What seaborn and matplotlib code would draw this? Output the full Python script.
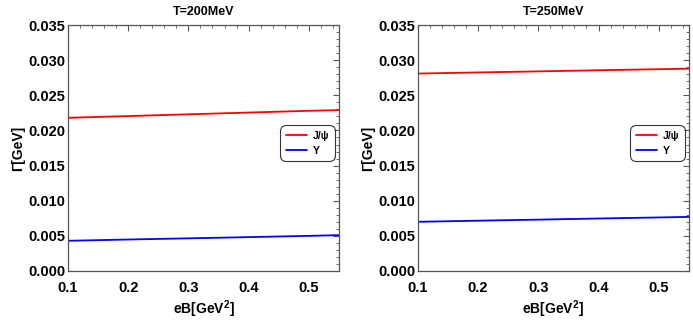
import numpy as np
import pandas as pd
import matplotlib
matplotlib.use("Agg")
import matplotlib.pyplot as plt
import seaborn as sns
from matplotlib.ticker import MultipleLocator, FormatStrFormatter

sns.set_theme(style="white")
plt.rcParams['font.family'] = ['Liberation Sans', 'DejaVu Sans']
plt.rcParams['font.weight'] = 'bold'
plt.rcParams['text.color'] = 'black'
plt.rcParams['axes.labelcolor'] = 'black'
plt.rcParams['xtick.labelcolor'] = 'black'
plt.rcParams['ytick.labelcolor'] = 'black'
plt.rcParams['mathtext.fontset'] = 'custom'
plt.rcParams['mathtext.rm'] = 'Liberation Sans:bold'
plt.rcParams['mathtext.bf'] = 'Liberation Sans:bold'

eB = [0.1, 0.2, 0.3, 0.4, 0.5, 0.55]
jpsi_200 = [0.0218, 0.02205, 0.0223, 0.02255, 0.0228, 0.0229]
ups_200 = [0.0043, 0.00448, 0.00465, 0.00482, 0.005, 0.0051]
jpsi_250 = [0.0281, 0.02826, 0.02841, 0.02857, 0.02872, 0.0288]
ups_250 = [0.0070, 0.00716, 0.00731, 0.00747, 0.00762, 0.0077]
titles = ["T=200MeV", "T=250MeV"]
labels = ["J/\u03c8", "\u03a5"]

fig = plt.figure(figsize=(6.93, 3.24), dpi=100)
axes = [fig.add_axes([0.0981, 0.1636, 0.391, 0.759]),
        fig.add_axes([0.603, 0.1636, 0.391, 0.759])]

for ax, title, jp, up in zip(axes, titles, [jpsi_200, jpsi_250], [ups_200, ups_250]):
    df = pd.DataFrame({"eB": eB * 2, "G": jp + up,
                       "state": [labels[0]] * len(eB) + [labels[1]] * len(eB)})
    sns.lineplot(data=df, x="eB", y="G", hue="state", palette=["#ff0000", "#0000ff"],
                 ax=ax, linewidth=1.3)
    ax.set_xlim(0.1, 0.55)
    ax.set_ylim(0, 0.035)
    ax.xaxis.set_major_locator(MultipleLocator(0.1))
    ax.xaxis.set_minor_locator(MultipleLocator(0.02))
    ax.yaxis.set_major_locator(MultipleLocator(0.005))
    ax.yaxis.set_minor_locator(MultipleLocator(0.001))
    ax.xaxis.set_major_formatter(FormatStrFormatter('%.1f'))
    ax.yaxis.set_major_formatter(FormatStrFormatter('%.3f'))
    ax.tick_params(which='both', direction='in', top=True, right=True, color='#555555')
    ax.tick_params(which='major', length=4, width=0.8, labelsize=10.5)
    ax.tick_params(axis='x', which='major', pad=7)
    ax.tick_params(axis='y', which='major', pad=2)
    ax.tick_params(which='minor', length=2, width=0.6)
    for lab in ax.get_xticklabels() + ax.get_yticklabels():
        lab.set_fontweight('bold')
    for s in ax.spines.values():
        s.set_color('#555555')
        s.set_linewidth(0.9)
    ax.set_title(title, fontsize=9, fontweight='bold', pad=7)
    ax.set_xlabel("eB[GeV$^{2}$]", fontsize=10, fontweight='bold', labelpad=3)
    ax.set_ylabel("\u0393[GeV]", fontsize=10, fontweight='bold', labelpad=2)
    leg = ax.legend(loc='center right', bbox_to_anchor=(1.005, 0.52), frameon=True,
                    fancybox=True, edgecolor='black', handlelength=2.0,
                    title=None, prop={'weight': 'bold', 'size': 7.5}, borderpad=0.55,
                    labelspacing=0.5, handletextpad=0.6)
    frame = leg.get_frame()
    frame.set_linewidth(0.8)
    frame.set_boxstyle("round", pad=0, rounding_size=0.6)

fig.savefig("out.png", dpi=100)
